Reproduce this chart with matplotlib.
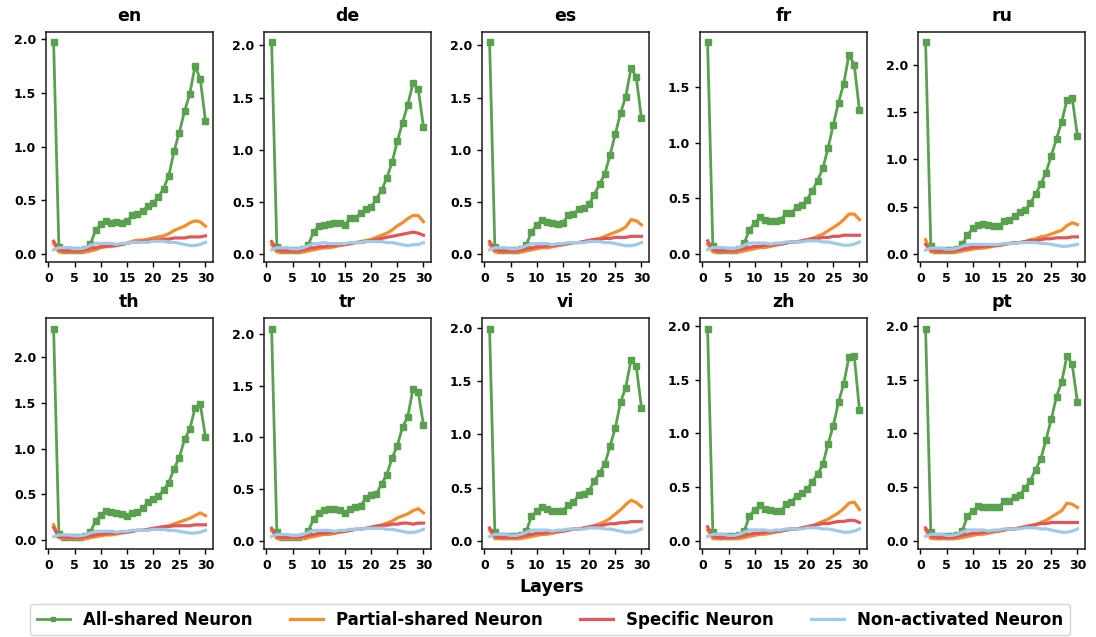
import matplotlib
matplotlib.use("Agg")
import matplotlib.pyplot as plt
from matplotlib.ticker import MultipleLocator, FormatStrFormatter

plt.rcParams["font.family"] = ["DejaVu Sans"]
plt.rcParams["font.weight"] = "bold"

layers = list(range(1, 31))
languages = ["en", "de", "es", "fr", "ru", "th", "tr", "vi", "zh", "pt"]
series_labels = ["All-shared Neuron", "Partial-shared Neuron", "Specific Neuron", "Non-activated Neuron"]

# ---- en ----
en_all = [1.97, 0.07, 0.04, 0.04, 0.04, 0.04, 0.05, 0.09, 0.22, 0.28, 0.31, 0.29, 0.30, 0.29, 0.31,
          0.36, 0.37, 0.40, 0.45, 0.48, 0.53, 0.61, 0.73, 0.96, 1.13, 1.33, 1.49, 1.75, 1.63, 1.24]
en_partial = [0.10, 0.02, 0.02, 0.02, 0.02, 0.02, 0.02, 0.03, 0.04, 0.06, 0.07, 0.07, 0.08, 0.09, 0.10,
              0.12, 0.13, 0.13, 0.14, 0.15, 0.16, 0.17, 0.19, 0.22, 0.24, 0.26, 0.29, 0.31, 0.30, 0.26]
en_specific = [0.12, 0.04, 0.03, 0.03, 0.03, 0.03, 0.04, 0.05, 0.06, 0.07, 0.07, 0.08, 0.08, 0.09, 0.10,
               0.11, 0.11, 0.12, 0.12, 0.13, 0.13, 0.14, 0.14, 0.15, 0.15, 0.15, 0.16, 0.16, 0.16, 0.17]
en_nonact = [0.04, 0.06, 0.06, 0.06, 0.05, 0.05, 0.06, 0.08, 0.10, 0.10, 0.10, 0.10, 0.09, 0.10, 0.10,
             0.11, 0.11, 0.11, 0.11, 0.12, 0.12, 0.12, 0.11, 0.11, 0.10, 0.09, 0.08, 0.08, 0.09, 0.11]

# ---- de ----
de_all = [2.03, 0.07, 0.04, 0.04, 0.04, 0.04, 0.05, 0.09, 0.21, 0.27, 0.28, 0.29, 0.30, 0.30, 0.28,
          0.35, 0.35, 0.39, 0.43, 0.45, 0.53, 0.61, 0.73, 0.88, 1.08, 1.26, 1.43, 1.64, 1.58, 1.22]
de_partial = [0.09, 0.02, 0.02, 0.02, 0.02, 0.02, 0.02, 0.03, 0.04, 0.05, 0.06, 0.06, 0.07, 0.08, 0.09,
              0.10, 0.11, 0.12, 0.13, 0.14, 0.16, 0.18, 0.20, 0.23, 0.27, 0.30, 0.34, 0.37, 0.37, 0.31]
de_specific = [0.12, 0.04, 0.03, 0.03, 0.03, 0.03, 0.04, 0.05, 0.06, 0.07, 0.07, 0.08, 0.08, 0.09, 0.09,
               0.10, 0.11, 0.11, 0.12, 0.13, 0.14, 0.15, 0.16, 0.17, 0.18, 0.19, 0.20, 0.21, 0.20, 0.18]
de_nonact = [0.04, 0.06, 0.06, 0.06, 0.05, 0.05, 0.06, 0.08, 0.10, 0.10, 0.11, 0.10, 0.10, 0.10, 0.10,
             0.11, 0.11, 0.11, 0.12, 0.12, 0.12, 0.12, 0.11, 0.11, 0.10, 0.09, 0.08, 0.09, 0.09, 0.11]

# ---- es ----
es_all = [2.03, 0.07, 0.04, 0.04, 0.04, 0.04, 0.05, 0.09, 0.21, 0.28, 0.33, 0.31, 0.30, 0.29, 0.30,
          0.37, 0.38, 0.43, 0.44, 0.48, 0.57, 0.67, 0.77, 0.95, 1.15, 1.35, 1.51, 1.78, 1.70, 1.30]
es_partial = [0.09, 0.02, 0.02, 0.02, 0.02, 0.02, 0.02, 0.03, 0.04, 0.05, 0.06, 0.06, 0.07, 0.08, 0.09,
              0.10, 0.11, 0.11, 0.12, 0.13, 0.14, 0.15, 0.17, 0.19, 0.21, 0.23, 0.26, 0.33, 0.32, 0.28]
es_specific = [0.12, 0.04, 0.03, 0.03, 0.03, 0.03, 0.04, 0.05, 0.06, 0.07, 0.07, 0.08, 0.08, 0.09, 0.09,
               0.10, 0.11, 0.11, 0.12, 0.13, 0.14, 0.14, 0.15, 0.15, 0.16, 0.16, 0.16, 0.17, 0.17, 0.17]
es_nonact = [0.04, 0.06, 0.06, 0.06, 0.05, 0.05, 0.06, 0.08, 0.10, 0.10, 0.10, 0.10, 0.09, 0.10, 0.10,
             0.11, 0.11, 0.11, 0.11, 0.12, 0.12, 0.12, 0.11, 0.11, 0.10, 0.09, 0.08, 0.08, 0.09, 0.11]

# ---- fr ----
fr_all = [1.90, 0.07, 0.04, 0.04, 0.04, 0.04, 0.05, 0.10, 0.22, 0.28, 0.33, 0.31, 0.30, 0.30, 0.31,
          0.37, 0.37, 0.42, 0.44, 0.49, 0.57, 0.66, 0.77, 0.95, 1.16, 1.36, 1.53, 1.79, 1.70, 1.29]
fr_partial = [0.09, 0.02, 0.02, 0.02, 0.02, 0.02, 0.02, 0.03, 0.04, 0.05, 0.06, 0.06, 0.07, 0.08, 0.09,
              0.10, 0.11, 0.11, 0.12, 0.13, 0.14, 0.16, 0.18, 0.21, 0.24, 0.27, 0.31, 0.36, 0.36, 0.31]
fr_specific = [0.12, 0.04, 0.03, 0.03, 0.03, 0.03, 0.04, 0.05, 0.06, 0.07, 0.07, 0.08, 0.08, 0.09, 0.09,
               0.10, 0.11, 0.11, 0.12, 0.13, 0.14, 0.14, 0.15, 0.15, 0.16, 0.16, 0.17, 0.17, 0.17, 0.17]
fr_nonact = [0.04, 0.06, 0.06, 0.06, 0.05, 0.05, 0.06, 0.08, 0.10, 0.10, 0.10, 0.10, 0.09, 0.10, 0.10,
             0.11, 0.11, 0.11, 0.11, 0.12, 0.12, 0.12, 0.11, 0.11, 0.10, 0.09, 0.08, 0.08, 0.09, 0.11]

# ---- ru ----
ru_all = [2.24, 0.08, 0.04, 0.04, 0.04, 0.04, 0.05, 0.10, 0.20, 0.27, 0.31, 0.32, 0.31, 0.30, 0.29,
          0.35, 0.36, 0.40, 0.44, 0.46, 0.54, 0.63, 0.74, 0.86, 1.04, 1.22, 1.40, 1.63, 1.65, 1.25]
ru_partial = [0.15, 0.02, 0.02, 0.02, 0.02, 0.02, 0.02, 0.03, 0.04, 0.05, 0.06, 0.06, 0.07, 0.08, 0.09,
              0.10, 0.11, 0.12, 0.12, 0.13, 0.15, 0.16, 0.18, 0.19, 0.21, 0.23, 0.25, 0.30, 0.33, 0.31]
ru_specific = [0.10, 0.04, 0.03, 0.03, 0.03, 0.03, 0.04, 0.05, 0.06, 0.07, 0.07, 0.08, 0.08, 0.09, 0.09,
               0.10, 0.11, 0.11, 0.12, 0.13, 0.14, 0.14, 0.15, 0.16, 0.16, 0.17, 0.17, 0.17, 0.18, 0.18]
ru_nonact = [0.04, 0.06, 0.06, 0.06, 0.05, 0.05, 0.06, 0.08, 0.10, 0.10, 0.10, 0.10, 0.10, 0.10, 0.10,
             0.11, 0.11, 0.11, 0.12, 0.12, 0.12, 0.12, 0.11, 0.11, 0.10, 0.09, 0.08, 0.08, 0.09, 0.10]

# ---- th ----
th_all = [2.30, 0.07, 0.04, 0.04, 0.04, 0.04, 0.05, 0.09, 0.21, 0.28, 0.32, 0.31, 0.30, 0.29, 0.27,
          0.30, 0.31, 0.35, 0.42, 0.45, 0.48, 0.55, 0.63, 0.78, 0.90, 1.10, 1.21, 1.44, 1.48, 1.13]
th_partial = [0.17, 0.03, 0.02, 0.02, 0.02, 0.02, 0.02, 0.03, 0.04, 0.05, 0.06, 0.06, 0.07, 0.08, 0.09,
              0.10, 0.11, 0.11, 0.12, 0.13, 0.14, 0.15, 0.16, 0.18, 0.20, 0.22, 0.24, 0.27, 0.30, 0.27]
th_specific = [0.14, 0.04, 0.03, 0.03, 0.03, 0.03, 0.04, 0.05, 0.06, 0.07, 0.07, 0.08, 0.08, 0.09, 0.09,
               0.10, 0.11, 0.11, 0.12, 0.13, 0.14, 0.15, 0.15, 0.16, 0.16, 0.16, 0.16, 0.17, 0.17, 0.17]
th_nonact = [0.04, 0.06, 0.06, 0.06, 0.05, 0.05, 0.06, 0.08, 0.10, 0.10, 0.10, 0.10, 0.09, 0.10, 0.10,
             0.11, 0.11, 0.11, 0.11, 0.12, 0.12, 0.12, 0.11, 0.11, 0.10, 0.09, 0.08, 0.08, 0.09, 0.11]

# ---- tr ----
tr_all = [2.05, 0.08, 0.04, 0.04, 0.04, 0.04, 0.05, 0.09, 0.21, 0.27, 0.30, 0.31, 0.31, 0.30, 0.27,
          0.31, 0.33, 0.34, 0.41, 0.44, 0.45, 0.55, 0.64, 0.80, 0.92, 1.10, 1.20, 1.47, 1.44, 1.12]
tr_partial = [0.10, 0.02, 0.02, 0.02, 0.02, 0.02, 0.02, 0.03, 0.04, 0.05, 0.06, 0.06, 0.07, 0.08, 0.09,
              0.10, 0.11, 0.11, 0.12, 0.13, 0.14, 0.15, 0.17, 0.19, 0.22, 0.24, 0.26, 0.29, 0.31, 0.27]
tr_specific = [0.12, 0.04, 0.03, 0.03, 0.03, 0.03, 0.04, 0.05, 0.06, 0.07, 0.07, 0.08, 0.08, 0.09, 0.09,
               0.10, 0.11, 0.11, 0.12, 0.13, 0.14, 0.15, 0.15, 0.16, 0.16, 0.17, 0.17, 0.16, 0.17, 0.17]
tr_nonact = [0.04, 0.06, 0.06, 0.06, 0.05, 0.05, 0.06, 0.08, 0.10, 0.10, 0.10, 0.10, 0.09, 0.10, 0.10,
             0.11, 0.11, 0.11, 0.12, 0.12, 0.12, 0.12, 0.11, 0.11, 0.10, 0.09, 0.08, 0.08, 0.09, 0.11]

# ---- vi ----
vi_all = [1.99, 0.08, 0.04, 0.04, 0.04, 0.04, 0.05, 0.09, 0.23, 0.28, 0.32, 0.30, 0.28, 0.28, 0.28,
          0.34, 0.36, 0.43, 0.44, 0.47, 0.56, 0.64, 0.72, 0.89, 1.06, 1.30, 1.44, 1.70, 1.64, 1.25]
vi_partial = [0.10, 0.02, 0.02, 0.02, 0.02, 0.02, 0.02, 0.03, 0.04, 0.05, 0.06, 0.06, 0.07, 0.08, 0.09,
              0.10, 0.11, 0.11, 0.12, 0.13, 0.14, 0.16, 0.18, 0.21, 0.25, 0.29, 0.34, 0.38, 0.36, 0.32]
vi_specific = [0.12, 0.04, 0.03, 0.03, 0.03, 0.03, 0.04, 0.05, 0.06, 0.07, 0.07, 0.08, 0.08, 0.09, 0.09,
               0.10, 0.11, 0.11, 0.12, 0.13, 0.14, 0.14, 0.15, 0.16, 0.16, 0.17, 0.17, 0.18, 0.18, 0.18]
vi_nonact = [0.04, 0.06, 0.06, 0.06, 0.05, 0.05, 0.06, 0.08, 0.10, 0.10, 0.10, 0.10, 0.09, 0.10, 0.10,
             0.11, 0.11, 0.11, 0.11, 0.12, 0.12, 0.12, 0.11, 0.11, 0.10, 0.09, 0.08, 0.08, 0.09, 0.11]

# ---- zh ----
zh_all = [1.97, 0.08, 0.04, 0.04, 0.04, 0.04, 0.05, 0.09, 0.23, 0.29, 0.33, 0.30, 0.29, 0.28, 0.28,
          0.34, 0.36, 0.42, 0.44, 0.48, 0.55, 0.62, 0.71, 0.90, 1.07, 1.29, 1.46, 1.71, 1.72, 1.22]
zh_partial = [0.10, 0.02, 0.02, 0.02, 0.02, 0.02, 0.02, 0.03, 0.04, 0.05, 0.06, 0.06, 0.07, 0.08, 0.09,
              0.10, 0.11, 0.11, 0.12, 0.13, 0.14, 0.16, 0.18, 0.20, 0.23, 0.26, 0.30, 0.35, 0.36, 0.29]
zh_specific = [0.13, 0.04, 0.03, 0.03, 0.03, 0.03, 0.04, 0.05, 0.06, 0.07, 0.07, 0.08, 0.08, 0.09, 0.09,
               0.10, 0.11, 0.11, 0.12, 0.13, 0.14, 0.15, 0.16, 0.16, 0.17, 0.18, 0.18, 0.19, 0.19, 0.17]
zh_nonact = [0.04, 0.06, 0.06, 0.06, 0.05, 0.05, 0.06, 0.08, 0.10, 0.10, 0.10, 0.10, 0.09, 0.10, 0.10,
             0.11, 0.11, 0.11, 0.11, 0.12, 0.12, 0.12, 0.11, 0.11, 0.10, 0.09, 0.08, 0.08, 0.09, 0.11]

# ---- pt ----
pt_all = [1.97, 0.08, 0.04, 0.04, 0.04, 0.04, 0.05, 0.09, 0.23, 0.28, 0.32, 0.31, 0.31, 0.31, 0.31,
          0.37, 0.37, 0.41, 0.43, 0.49, 0.56, 0.66, 0.76, 0.94, 1.13, 1.34, 1.48, 1.72, 1.64, 1.29]
pt_partial = [0.10, 0.02, 0.02, 0.02, 0.02, 0.02, 0.02, 0.03, 0.04, 0.05, 0.06, 0.06, 0.07, 0.08, 0.09,
              0.10, 0.11, 0.11, 0.12, 0.13, 0.14, 0.15, 0.17, 0.19, 0.22, 0.25, 0.28, 0.35, 0.34, 0.31]
pt_specific = [0.12, 0.04, 0.03, 0.03, 0.03, 0.03, 0.04, 0.05, 0.06, 0.07, 0.07, 0.08, 0.08, 0.09, 0.09,
               0.10, 0.11, 0.11, 0.12, 0.13, 0.14, 0.15, 0.16, 0.16, 0.17, 0.17, 0.17, 0.17, 0.17, 0.17]
pt_nonact = [0.04, 0.06, 0.06, 0.06, 0.05, 0.05, 0.06, 0.08, 0.10, 0.10, 0.10, 0.10, 0.09, 0.10, 0.10,
             0.11, 0.11, 0.11, 0.11, 0.12, 0.12, 0.12, 0.11, 0.11, 0.10, 0.09, 0.08, 0.08, 0.09, 0.11]

panel_data = [
    (en_all, en_partial, en_specific, en_nonact),
    (de_all, de_partial, de_specific, de_nonact),
    (es_all, es_partial, es_specific, es_nonact),
    (fr_all, fr_partial, fr_specific, fr_nonact),
    (ru_all, ru_partial, ru_specific, ru_nonact),
    (th_all, th_partial, th_specific, th_nonact),
    (tr_all, tr_partial, tr_specific, tr_nonact),
    (vi_all, vi_partial, vi_specific, vi_nonact),
    (zh_all, zh_partial, zh_specific, zh_nonact),
    (pt_all, pt_partial, pt_specific, pt_nonact),
]

colors = ["#59A14F", "#F28E2B", "#E15759", "#A0CBE8"]

fig, axes = plt.subplots(2, 5, figsize=(10.96, 6.37), dpi=100)
fig.subplots_adjust(left=0.042, right=0.990, top=0.950, bottom=0.138,
                    wspace=0.305, hspace=0.243)

handles = []
for ax, lang, (s_all, s_part, s_spec, s_non) in zip(axes.flat, languages, panel_data):
    h0, = ax.plot(layers, s_all, color=colors[0], lw=2.0, marker="s", markersize=4,
                  label=series_labels[0])
    h1, = ax.plot(layers, s_part, color=colors[1], lw=2.3, label=series_labels[1])
    h2, = ax.plot(layers, s_spec, color=colors[2], lw=2.3, label=series_labels[2])
    h3, = ax.plot(layers, s_non, color=colors[3], lw=2.3, label=series_labels[3])
    handles = [h0, h1, h2, h3]
    ax.set_title(lang, fontsize=12.5, fontweight="bold", pad=8)
    ax.set_xticks([0, 5, 10, 15, 20, 25, 30])
    ax.yaxis.set_major_locator(MultipleLocator(0.5))
    ax.yaxis.set_major_formatter(FormatStrFormatter("%.1f"))
    ax.tick_params(labelsize=9, width=1.0, length=3.5)
    for lbl in ax.get_xticklabels() + ax.get_yticklabels():
        lbl.set_fontweight("bold")
    for sp in ax.spines.values():
        sp.set_linewidth(1.1)
        sp.set_color("#1a1a1a")

fig.text(0.503, 0.078, "Layers", ha="center", va="center", fontsize=12.5, fontweight="bold")

leg = fig.legend(handles, series_labels, loc="center", bbox_to_anchor=(0.502, 0.027),
                 ncol=4, frameon=True, markerscale=0.6, columnspacing=2.2,
                 prop={"weight": "bold", "size": 12})
leg.get_frame().set_edgecolor("#cccccc")

fig.savefig("out.png", dpi=100)
